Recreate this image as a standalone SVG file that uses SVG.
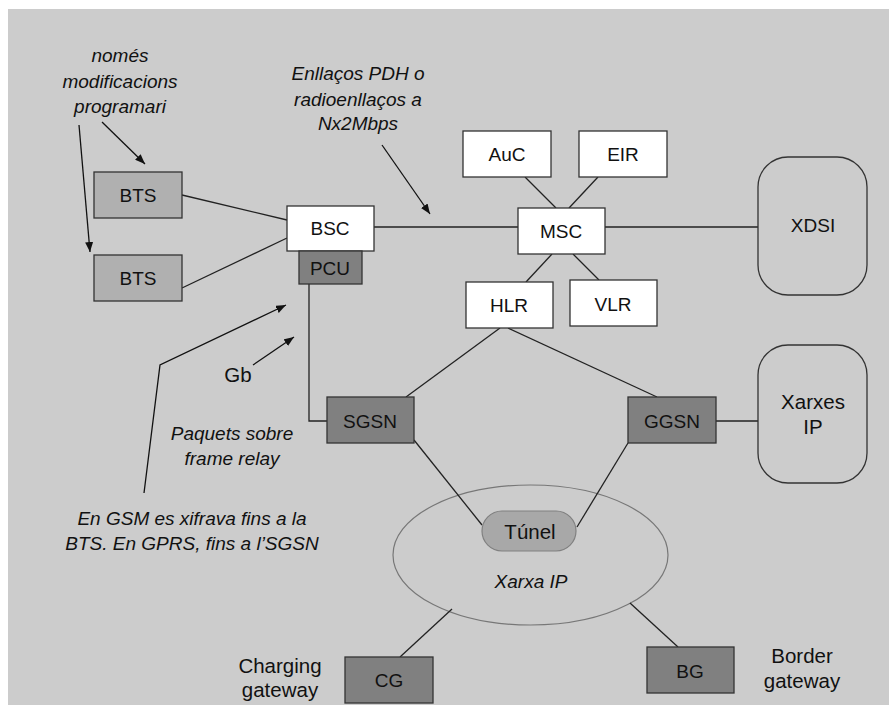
<svg xmlns="http://www.w3.org/2000/svg" width="889" height="705" viewBox="0 0 889 705">
<defs>
<marker id="ah" viewBox="0 0 10 8" refX="10" refY="4" markerWidth="10" markerHeight="8" markerUnits="userSpaceOnUse" orient="auto">
<path d="M0,0 L10,4 L0,8 z" fill="#111"/>
</marker>
</defs>
<style>
text{font-family:"Liberation Sans",Arial,sans-serif;font-size:19px;fill:#111;text-anchor:middle}
.it{font-style:italic}
.big{font-size:20.5px}
.box{stroke:#333;stroke-width:1.3}
.w{fill:#ffffff}
.lg{fill:#b0b0b0}
.dg{fill:#808080}
.cl{fill:#cccccc;stroke:#333;stroke-width:1.3}
.ln{stroke:#222;stroke-width:1.3;fill:none}
.gl{stroke:#777;stroke-width:1.2;fill:none}
.ar{stroke:#111;stroke-width:1.3;fill:none;marker-end:url(#ah)}
</style>
<rect x="0" y="0" width="889" height="705" fill="#ffffff"/>
<rect x="8" y="9" width="881" height="696" fill="#cccccc"/>

<g id="ipnet">
<ellipse cx="530.5" cy="555" rx="137.5" ry="70" class="gl" fill="none"/>
<text x="531" y="588" class="it">Xarxa IP</text>
</g>

<g id="connectors">
<line x1="182" y1="195" x2="287" y2="220" class="ln"/>
<line x1="182" y1="288" x2="287" y2="238" class="ln"/>
<line x1="374" y1="227" x2="518" y2="227" class="ln"/>
<line x1="605" y1="227" x2="758" y2="227" class="ln"/>
<line x1="525" y1="177" x2="556" y2="208" class="ln"/>
<line x1="598" y1="177" x2="569" y2="208" class="ln"/>
<line x1="552" y1="254" x2="526" y2="282" class="ln"/>
<line x1="573" y1="254" x2="599" y2="280" class="ln"/>
<polyline points="309,284 309,421 327,421" class="ln"/>
<line x1="500" y1="328" x2="406" y2="397" class="ln"/>
<line x1="508" y1="328" x2="657" y2="397" class="ln"/>
<line x1="716" y1="421" x2="758" y2="421" class="ln"/>
<line x1="414" y1="440" x2="482" y2="525" class="ln"/>
<line x1="628" y1="443" x2="577" y2="527" class="ln"/>
<line x1="630" y1="603" x2="678" y2="647" class="ln"/>
<line x1="452" y1="609" x2="400" y2="657" class="ln"/>
<line x1="102" y1="122" x2="145" y2="164" class="ar"/>
<line x1="79" y1="125" x2="90" y2="252" class="ar"/>
<line x1="382" y1="145" x2="430" y2="214" class="ar"/>
<line x1="253" y1="365" x2="294" y2="337" class="ar"/>
<polyline points="144,493 160,365 286,305" class="ar"/>
</g>

<g id="bts1"><rect x="94" y="172" width="88" height="46" class="box lg"/><text x="138" y="202">BTS</text></g>
<g id="bts2"><rect x="94" y="255" width="88" height="46" class="box lg"/><text x="138" y="285">BTS</text></g>
<g id="bsc"><rect x="287" y="206" width="87" height="45" class="box w"/><text x="330" y="235">BSC</text></g>
<g id="pcu"><rect x="299" y="251" width="63" height="33" class="box dg"/><text x="330" y="275">PCU</text></g>
<g id="auc"><rect x="463" y="131" width="88" height="46" class="box w"/><text x="507" y="161">AuC</text></g>
<g id="eir"><rect x="579" y="131" width="88" height="46" class="box w"/><text x="623" y="161">EIR</text></g>
<g id="msc"><rect x="518" y="208" width="87" height="46" class="box w"/><text x="561" y="238">MSC</text></g>
<g id="hlr"><rect x="466" y="282" width="87" height="46" class="box w"/><text x="509" y="312">HLR</text></g>
<g id="vlr"><rect x="570" y="280" width="87" height="46" class="box w"/><text x="613" y="311">VLR</text></g>
<g id="xdsi"><rect x="758" y="157" width="109" height="138" rx="30" ry="30" class="cl"/><text x="813" y="232">XDSI</text></g>
<g id="sgsn"><rect x="327" y="397" width="87" height="46" class="box dg"/><text x="370" y="428">SGSN</text></g>
<g id="ggsn"><rect x="628" y="397" width="88" height="46" class="box dg"/><text x="672" y="428">GGSN</text></g>
<g id="xarxesip"><rect x="758" y="345" width="109" height="138" rx="30" ry="30" class="cl"/><text x="813" y="409" class="big">Xarxes</text><text x="813" y="434" class="big">IP</text></g>
<g id="tunel"><rect x="482" y="511" width="94" height="40" rx="20" ry="20" fill="#a8a8a8" stroke="#808080" stroke-width="1.2"/><text x="530" y="539" class="big">Túnel</text></g>
<g id="cg"><rect x="345" y="657" width="88" height="46" class="box dg"/><text x="389" y="687">CG</text></g>
<g id="bg"><rect x="647" y="647" width="87" height="46" class="box dg"/><text x="690" y="678">BG</text></g>

<g id="labels">
<text x="120" y="62" class="it">només</text>
<text x="120" y="88" class="it">modificacions</text>
<text x="120" y="113" class="it">programari</text>
<text x="358" y="80" class="it">Enllaços PDH o</text>
<text x="358" y="106" class="it">radioenllaços a</text>
<text x="358" y="130" class="it">Nx2Mbps</text>
<text x="238" y="382" class="big">Gb</text>
<text x="232" y="440" class="it">Paquets sobre</text>
<text x="232" y="465" class="it">frame relay</text>
<text x="192" y="525" class="it">En GSM es xifrava fins a la</text>
<text x="192" y="550" class="it">BTS. En GPRS, fins a l’SGSN</text>
<text x="280" y="673" class="big">Charging</text>
<text x="280" y="697" class="big">gateway</text>
<text x="802" y="663" class="big">Border</text>
<text x="802" y="688" class="big">gateway</text>
</g>
</svg>
